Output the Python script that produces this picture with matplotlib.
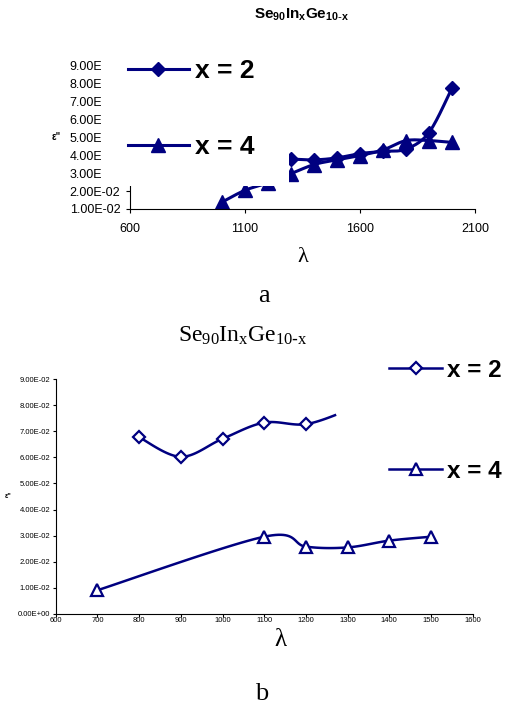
import matplotlib
matplotlib.use("Agg")
import matplotlib.pyplot as plt
import numpy as np
from matplotlib.patches import Rectangle
from matplotlib.lines import Line2D
from matplotlib.ticker import FuncFormatter, MultipleLocator

plt.rcParams['font.family'] = ['Liberation Sans', 'DejaVu Sans']
plt.rcParams['mathtext.default'] = 'regular'

"""
Data read off the picture
"""
# panel a
a_lam_x2 = [1300, 1400, 1500, 1600, 1700, 1800, 1900, 2000]
a_eps_x2 = [0.0378, 0.0373, 0.0384, 0.0408, 0.0420, 0.0433, 0.0525, 0.0772]
a_lam_x4 = [1000, 1100, 1200, 1300, 1400, 1500, 1600, 1700, 1800, 1900, 2000]
a_eps_x4 = [0.0138, 0.0204, 0.0245, 0.0296, 0.0347, 0.0373, 0.0397, 0.0428, 0.0480, 0.0480, 0.0470]
a_xticks = [600, 1100, 1600, 2100]

# panel b
b_lam_x2 = [800, 900, 1000, 1100, 1200, 1300]
b_eps_x2 = [0.0677, 0.0602, 0.0671, 0.0733, 0.0727, 0.0780]
b_lam_x4 = [700, 1100, 1200, 1300, 1400, 1500]
b_eps_x4 = [0.0091, 0.0296, 0.0258, 0.0255, 0.0281, 0.0296]

labels = ['x = 2', 'x = 4']
title_txt = r'Se$_{90}$In$_{x}$Ge$_{10\text{-}x}$'

NAVY = '#000080'
W, H = 505, 706


def smooth(xs, ys, n=25):
    # excel style smoothed line (bezier through the points)
    p = np.column_stack([xs, ys]).astype(float)
    p = np.vstack([p[0], p, p[-1]])
    t = np.linspace(0, 1, n)[:, None]
    segs = []
    for i in range(1, len(p) - 2):
        p0, p1, p2, p3 = p[i - 1], p[i], p[i + 1], p[i + 2]
        c1 = p1 + (p2 - p0) / 6
        c2 = p2 - (p3 - p1) / 6
        segs.append((1 - t) ** 3 * p1 + 3 * (1 - t) ** 2 * t * c1
                    + 3 * (1 - t) * t ** 2 * c2 + t ** 3 * p2)
    return np.vstack(segs)


def fx(px):
    return px / W


def fy(py):
    return 1 - py / H


sci = FuncFormatter(lambda v, pos: f'{v:.2E}')

fig = plt.figure(figsize=(W / 100, H / 100), dpi=100)

"""
Panel a
"""
ax1 = fig.add_axes([fx(130), fy(209), fx(475) - fx(130), fy(65) - fy(209)])
c = smooth(a_lam_x2, a_eps_x2)
ax1.plot(c[:, 0], c[:, 1], color=NAVY, lw=2.2)
ax1.plot(a_lam_x2, a_eps_x2, ls='none', marker='D', ms=7.5, color=NAVY)
c = smooth(a_lam_x4, a_eps_x4)
ax1.plot(c[:, 0], c[:, 1], color=NAVY, lw=2.2)
ax1.plot(a_lam_x4, a_eps_x4, ls='none', marker='^', ms=10.5, color=NAVY)
ax1.set_xlim(600, 2100)
ax1.set_ylim(0.01, 0.09)
ax1.set_xticks(a_xticks)
ax1.yaxis.set_major_locator(MultipleLocator(0.01))
ax1.yaxis.set_major_formatter(sci)
for s in ['top', 'right']:
    ax1.spines[s].set_visible(False)
for s in ['left', 'bottom']:
    ax1.spines[s].set_linewidth(0.8)
ax1.tick_params(axis='x', direction='out', length=3, width=0.8, pad=7, labelsize=9)
ax1.tick_params(axis='y', direction='out', length=3, width=0.8, pad=4, labelsize=9)

# white legend box hiding the upper left of the plot
fig.add_artist(Rectangle((fx(101), fy(186)), fx(289) - fx(101), fy(52) - fy(186),
                         transform=fig.transFigure, facecolor='white',
                         edgecolor='none', zorder=3))
h_a = [Line2D([], [], color=NAVY, lw=2.2, marker='D', ms=7.5),
       Line2D([], [], color=NAVY, lw=2.2, marker='^', ms=10.5)]
fig.legend(h_a, labels, loc='upper left', bbox_to_anchor=(fx(128), fy(59)),
           frameon=False, borderpad=0, borderaxespad=0, handlelength=2.3,
           handletextpad=0.25, labelspacing=1.98,
           prop={'weight': 'bold', 'size': 19})

fig.text(fx(302), fy(15), title_txt, ha='center', va='center', fontsize=11,
         fontweight='bold')
fig.text(fx(56), fy(137), 'ε"', ha='center', va='center', fontsize=7,
         fontweight='bold')
fig.text(fx(303), fy(257), 'λ', ha='center', va='center', fontsize=16,
         family='Liberation Serif')
fig.text(fx(264), fy(296), 'a', ha='center', va='center', fontsize=19,
         family='Liberation Serif')

"""
Panel b
"""
ax2 = fig.add_axes([fx(55.7), fy(614), fx(472.7) - fx(55.7), fy(379) - fy(614)])
c = smooth(b_lam_x2, b_eps_x2)
c = c[c[:, 0] <= 1274]
ax2.plot(c[:, 0], c[:, 1], color=NAVY, lw=1.8)
ax2.plot(b_lam_x2[:-1], b_eps_x2[:-1], ls='none', marker='D', ms=6.2, color=NAVY,
         mfc='white', mew=1.6)
c = smooth(b_lam_x4, b_eps_x4)
ax2.plot(c[:, 0], c[:, 1], color=NAVY, lw=1.8)
ax2.plot(b_lam_x4, b_eps_x4, ls='none', marker='^', ms=9, color=NAVY,
         mfc='white', mew=1.6)
ax2.set_xlim(600, 1600)
ax2.set_ylim(0, 0.09)
ax2.xaxis.set_major_locator(MultipleLocator(100))
ax2.yaxis.set_major_locator(MultipleLocator(0.01))
ax2.yaxis.set_major_formatter(sci)
for s in ['top', 'right']:
    ax2.spines[s].set_visible(False)
for s in ['left', 'bottom']:
    ax2.spines[s].set_linewidth(0.8)
ax2.tick_params(axis='x', direction='out', length=2, width=0.8, pad=0.5, labelsize=5.5)
ax2.tick_params(axis='y', direction='out', length=2, width=0.8, pad=2, labelsize=5.5)

h_b = [Line2D([], [], color=NAVY, lw=1.8, marker='D', ms=6.2, mfc='white', mew=1.6),
       Line2D([], [], color=NAVY, lw=1.8, marker='^', ms=9, mfc='white', mew=1.6)]
ax2.legend(h_b, labels, loc='upper left', bbox_to_anchor=(fx(389), fy(359)),
           bbox_transform=fig.transFigure, frameon=False, borderpad=0,
           borderaxespad=0, handlelength=2.2, handletextpad=0.2,
           labelspacing=3.2, prop={'weight': 'bold', 'size': 17.5})

fig.text(fx(243), fy(336), title_txt, ha='center', va='center', fontsize=17,
         family='Liberation Serif')
fig.text(fx(8), fy(497), 'ε"', ha='center', va='center', fontsize=5,
         fontweight='bold')
fig.text(fx(280), fy(640), 'λ', ha='center', va='center', fontsize=18,
         family='Liberation Serif')
fig.text(fx(262), fy(694), 'b', ha='center', va='center', fontsize=19,
         family='Liberation Serif')

fig.savefig('out.png', dpi=100)
